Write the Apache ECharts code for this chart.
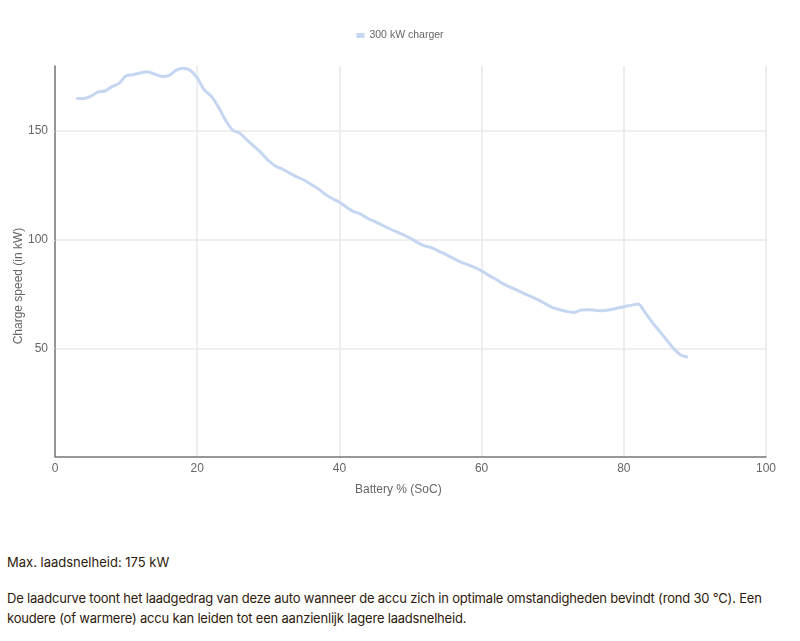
<!DOCTYPE html>
<html>
<head>
<meta charset="utf-8">
<script src="https://cdn.jsdelivr.net/npm/echarts@6/dist/echarts.min.js"></script>
<style>
  html, body { margin: 0; padding: 0; background: #fff; width: 800px; height: 641px; overflow: hidden; }
  #chart { position: absolute; left: 0; top: 0; width: 800px; height: 520px; }
  .txt { position: absolute; left: 7px; font-family: Inter, "Noto Sans", sans-serif; font-size: 13px; color: #2e1a0c; letter-spacing: -0.2px; line-height: 20px; margin: 0; }
</style>
</head>
<body>
<div id="chart"></div>
<p class="txt" style="top:552px; letter-spacing:0px;">Max. laadsnelheid: 175 kW</p>
<p class="txt" style="top:588px; width: 792px;">De laadcurve toont het laadgedrag van deze auto wanneer de accu zich in optimale omstandigheden bevindt (rond 30 °C). Een koudere (of warmere) accu kan leiden tot een aanzienlijk lagere laadsnelheid.</p>
<script>
const seriesName = '300 kW charger';
const soc = [3,4,5,6,7,8,9,10,11,12,13,14,15,16,17,18,19,20,21,22,23,24,25,26,27,28,29,30,31,32,33,34,35,36,37,38,39,40,41,42,43,44,45,46,47,48,49,50,51,52,53,54,55,56,57,58,59,60,61,62,63,64,65,66,67,68,69,70,71,72,73,74,75,76,77,78,79,80,81,82,83,84,85,86,87,88,89];
const power = [165,165,166,168,168.5,170.5,172,175.5,176,176.8,177.3,176.3,175.2,175.6,178,179,178,174.5,169,166,161,155,150.5,149,146,143,140,136.5,134,132.5,130.7,129,127.5,125.5,123.5,121,119,117.3,115,113,111.8,109.8,108.4,106.8,105.2,103.7,102.3,100.7,98.7,97.2,96.3,94.7,93.2,91.5,89.8,88.6,87.3,85.7,83.6,81.8,79.8,78.2,76.8,75.2,73.8,72.3,70.5,68.8,67.8,67,66.5,67.7,67.8,67.5,67.3,67.8,68.5,69.2,69.8,70.4,66.5,62,58,54,50,47,45.9];
const xTitle = 'Battery % (SoC)';
const yTitle = 'Charge speed (in kW)';

const chart = echarts.init(document.getElementById('chart'), null, { renderer: 'canvas' });
const lineColor = '#c5d6f1';
chart.setOption({
  animation: false,
  textStyle: { fontFamily: '"Liberation Sans", Arial, sans-serif' },
  legend: {
    top: 25, left: 'center',
    itemWidth: 8, itemHeight: 5, itemGap: 10,
    icon: 'rect',
    textStyle: { color: '#666', fontSize: 10.5, fontFamily: '"Liberation Sans", Arial, sans-serif' },
    data: [{ name: seriesName, icon: 'rect' }]
  },
  grid: { left: 55, right: 34, top: 66, bottom: 63, containLabel: false },
  xAxis: {
    type: 'value', min: 0, max: 100, interval: 20,
    axisLine: { lineStyle: { color: '#777', width: 1.5 } },
    axisTick: { show: false },
    axisLabel: { color: '#666', fontSize: 12, margin: 6 },
    splitLine: { show: true, lineStyle: { color: '#e8e8e8', width: 1.5 } }
  },
  yAxis: {
    type: 'value', min: 0, max: 180, interval: 50,
    axisLine: { show: true, lineStyle: { color: '#777', width: 1.5 } },
    axisTick: { show: true, length: 3, lineStyle: { color: '#e8e8e8' } },
    axisLabel: { color: '#666', fontSize: 12, margin: 7, showMaxLabel: false, formatter: v => (v === 0 || v === 180) ? '' : String(v) },
    splitLine: { show: true, lineStyle: { color: ['transparent', '#e8e8e8', '#e8e8e8', '#e8e8e8', 'transparent'], width: 1.5 } }
  },
  graphic: [
    { type: 'text', left: 355, top: 484, style: { text: xTitle, fill: '#666', font: '12px "Liberation Sans", Arial, sans-serif' } },
    { type: 'text', x: 19, y: 286, rotation: Math.PI / 2, style: { text: yTitle, fill: '#666', font: '12px "Liberation Sans", Arial, sans-serif', align: 'center', verticalAlign: 'middle' } }
  ],
  series: [{
    name: seriesName,
    type: 'line',
    data: soc.map((s, i) => [s, power[i]]),
    showSymbol: false,
    smooth: 0.3,
    lineStyle: { color: lineColor, width: 3 },
    itemStyle: { color: lineColor }
  }]
});
</script>
</body>
</html>
